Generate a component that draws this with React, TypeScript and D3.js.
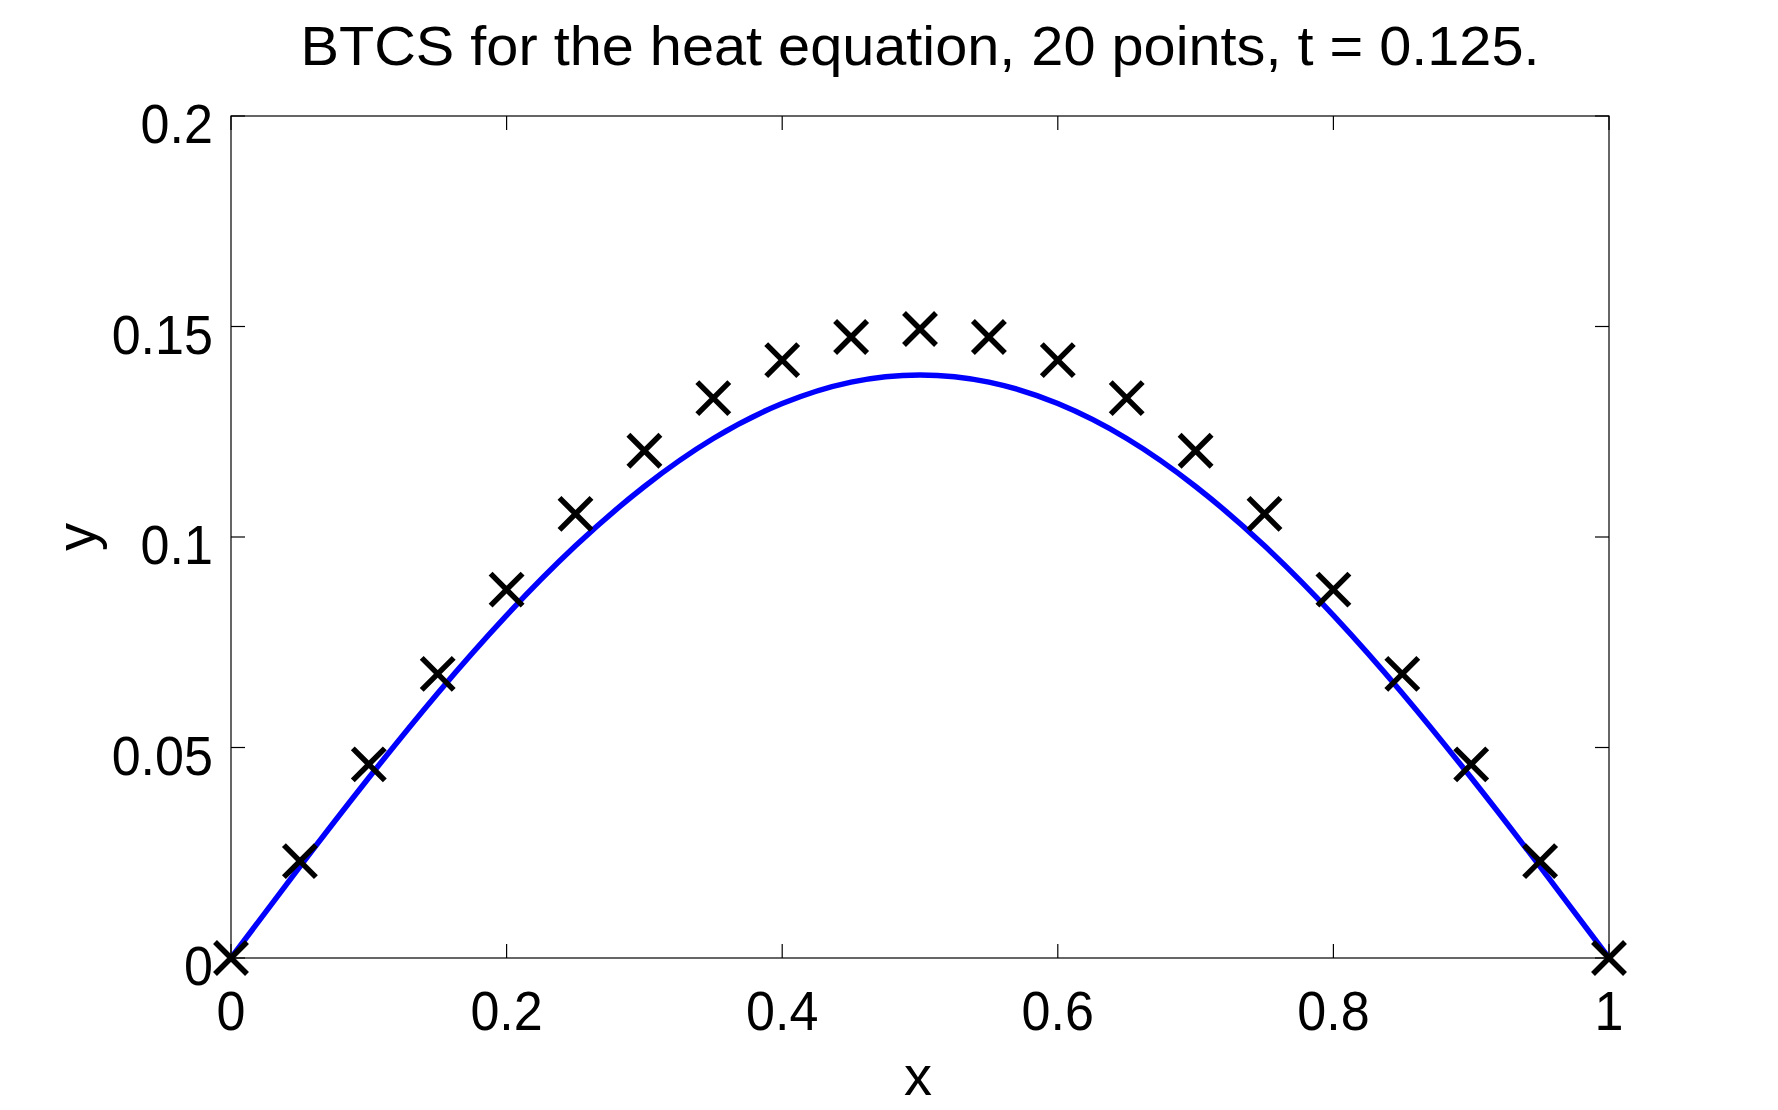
import { useEffect, useRef } from 'react';
import * as d3 from 'd3';

// grid nodes (20 intervals)
const nodes = [0, 0.05, 0.1, 0.15, 0.2, 0.25, 0.3, 0.35, 0.4, 0.45, 0.5, 0.55, 0.6, 0.65, 0.7, 0.75, 0.8, 0.85, 0.9, 0.95, 1];
// BTCS values (crosses)
const btcs = [0, 0.023, 0.046, 0.0675, 0.0875, 0.1055, 0.1205, 0.133, 0.142, 0.1475, 0.1494, 0.1475, 0.142, 0.133, 0.1205, 0.1055, 0.0875, 0.0675, 0.046, 0.023, 0];
// exact solution
const exact = [0, 0.0217, 0.0428, 0.0629, 0.0814, 0.0979, 0.112, 0.1234, 0.1317, 0.1368, 0.1385, 0.1368, 0.1317, 0.1234, 0.112, 0.0979, 0.0814, 0.0629, 0.0428, 0.0217, 0];

const xTicks = [0, 0.2, 0.4, 0.6, 0.8, 1];
const yTicks = [0, 0.05, 0.1, 0.15, 0.2];

const W = 1778;
const H = 1110;
const FONT = '"Liberation Sans", Arial, Helvetica, sans-serif';

export default function App() {
  const svgRef = useRef<SVGSVGElement>(null);

  useEffect(() => {
    if (!svgRef.current) return;
    const svg = d3.select(svgRef.current);
    svg.selectAll('*').remove();

    const left = 231, right = 1609, top = 116, bottom = 958;
    const x = d3.scaleLinear().domain([0, 1]).range([left, right]);
    const y = d3.scaleLinear().domain([0, 0.2]).range([bottom, top]);

    svg.append('rect').attr('width', W).attr('height', H).attr('fill', 'white');

    // ticks (inward, all four sides)
    const tickLen = 14;
    const g = svg.append('g').attr('stroke', 'black').attr('stroke-width', 1.2);
    xTicks.forEach(t => {
      g.append('line').attr('x1', x(t)).attr('x2', x(t)).attr('y1', bottom).attr('y2', bottom - tickLen);
      g.append('line').attr('x1', x(t)).attr('x2', x(t)).attr('y1', top).attr('y2', top + tickLen);
    });
    yTicks.forEach(t => {
      g.append('line').attr('x1', left).attr('x2', left + tickLen).attr('y1', y(t)).attr('y2', y(t));
      g.append('line').attr('x1', right).attr('x2', right - tickLen).attr('y1', y(t)).attr('y2', y(t));
    });

    // exact solution
    const line = d3.line<number>()
      .x((d, i) => x(nodes[i]))
      .y(d => y(d))
      .curve(d3.curveNatural);
    svg.append('path')
      .attr('d', line(exact))
      .attr('fill', 'none')
      .attr('stroke', '#0000ff')
      .attr('stroke-width', 5.5);

    // box
    svg.append('rect')
      .attr('x', left).attr('y', top)
      .attr('width', right - left).attr('height', bottom - top)
      .attr('fill', 'none').attr('stroke', 'black').attr('stroke-width', 1.2);

    // crosses
    const s = 16;
    const marks = svg.append('g').attr('stroke', 'black').attr('stroke-width', 5.5);
    btcs.forEach((v, i) => {
      const cx = x(nodes[i]), cy = y(v);
      marks.append('path')
        .attr('d', `M${cx - s},${cy - s}L${cx + s},${cy + s}M${cx - s},${cy + s}L${cx + s},${cy - s}`);
    });

    const txt = svg.append('g').attr('font-family', FONT).attr('font-size', 56).attr('fill', 'black');
    // helvetica-like digits are a bit narrower than Liberation Sans
    const label = (px: number, py: number, sx: number, anchor: string, s: string) =>
      txt.append('text')
        .attr('transform', `translate(${px},${py}) scale(${sx},1)`)
        .attr('text-anchor', anchor)
        .text(s);

    xTicks.forEach(t => label(x(t), bottom + 72, 0.93, 'middle', d3.format('~g')(t)));
    yTicks.forEach(t => label(left - 18, y(t) + 27, 0.93, 'end', d3.format('~g')(t)));

    label(918, 1095, 1, 'middle', 'x');
    txt.append('text')
      .attr('transform', `translate(95, ${(top + bottom) / 2}) rotate(-90)`)
      .attr('text-anchor', 'middle').text('y');

    label(920, 65, 1.03, 'middle', 'BTCS for the heat equation, 20 points, t = 0.125.');
  }, []);

  return (
    <svg ref={svgRef} width={W} height={H} style={{ position: 'absolute', left: 0, top: 0 }}></svg>
  );
}
